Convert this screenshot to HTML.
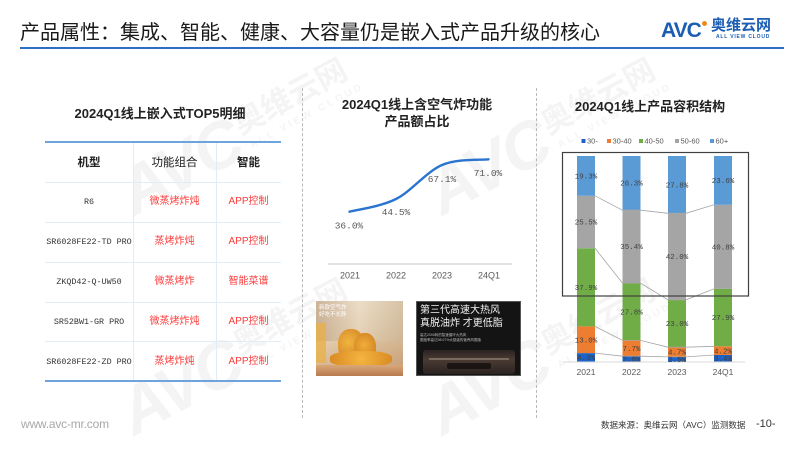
<!DOCTYPE html>
<html><head><meta charset="utf-8">
<style>
*{margin:0;padding:0;box-sizing:border-box;}
body{width:800px;height:445px;background:#fff;position:relative;overflow:hidden;font-family:"Liberation Sans","Noto Sans CJK SC",sans-serif;color:#222;}
.abs{position:absolute;}
.wm{position:absolute;width:260px;height:76px;transform:rotate(-28deg);color:rgba(0,0,0,0.045);font-weight:bold;white-space:nowrap;}
.wm .a{position:absolute;left:0;top:0;font-size:66px;line-height:76px;font-style:italic;letter-spacing:-2px;font-family:"Liberation Sans",sans-serif;}
.wm .b{position:absolute;left:132px;top:8px;font-size:31px;line-height:36px;font-family:"Noto Sans CJK SC",sans-serif;}
.wm .c{position:absolute;left:136px;top:48px;font-size:10px;letter-spacing:3px;font-family:"Liberation Sans",sans-serif;}
.cell{position:absolute;text-align:center;white-space:nowrap;height:14px;line-height:14px;}
.mono{font-family:"Liberation Mono",monospace;font-size:8.4px;color:#333;}
.red{color:#ff3b3b;font-size:10px;}
.hd{font-weight:bold;font-size:11.5px;color:#222;}
.ttl{position:absolute;font-weight:bold;font-size:13px;text-align:center;white-space:nowrap;color:#222;}
</style></head><body>

<!-- watermarks -->
<div class="wm" style="left:108px;top:97px;"><span class="a">AVC</span><span class="b">奥维云网</span><span class="c">ALL VIEW CLOUD</span></div>
<div class="wm" style="left:416px;top:97px;"><span class="a">AVC</span><span class="b">奥维云网</span><span class="c">ALL VIEW CLOUD</span></div>
<div class="wm" style="left:108px;top:317px;"><span class="a">AVC</span><span class="b">奥维云网</span><span class="c">ALL VIEW CLOUD</span></div>
<div class="wm" style="left:416px;top:317px;"><span class="a">AVC</span><span class="b">奥维云网</span><span class="c">ALL VIEW CLOUD</span></div>

<!-- header -->
<div class="abs" style="left:20px;top:20px;font-size:20px;line-height:26px;white-space:nowrap;color:#1a1a1a;font-family:'Liberation Sans','Noto Sans CJK SC',sans-serif;font-weight:normal;">产品属性：集成、智能、健康、大容量仍是嵌入式产品升级的核心</div>
<div class="abs" style="left:20px;top:47px;width:764px;height:2px;background:#2a6fc4;"></div>
<!-- logo -->
<div class="abs" style="left:661px;top:19px;font-size:21px;font-weight:bold;color:#1b5db3;letter-spacing:-1px;font-family:'Liberation Sans',sans-serif;line-height:24px;">AVC</div>
<div class="abs" style="left:702px;top:21px;width:5px;height:5px;border-radius:50%;background:#f08a1c;"></div>
<div class="abs" style="left:711px;top:16px;font-size:15px;font-weight:bold;color:#1b5db3;line-height:18px;white-space:nowrap;font-family:'Noto Sans CJK SC',sans-serif;">奥维云网</div>
<div class="abs" style="left:716px;top:34px;font-size:5px;font-weight:bold;color:#1b5db3;letter-spacing:0.8px;white-space:nowrap;">ALL VIEW CLOUD</div>

<!-- separators -->
<div class="abs" style="left:302px;top:88px;height:330px;border-left:1px dashed #b8b8b8;"></div>
<div class="abs" style="left:536px;top:88px;height:330px;border-left:1px dashed #b8b8b8;"></div>

<!-- left table -->
<div class="ttl" style="left:60px;top:103px;width:200px;">2024Q1线上嵌入式TOP5明细</div>
<div class="abs" style="left:45px;top:141px;width:236px;height:2px;background:#6fa3dc;"></div>
<div class="abs" style="left:45px;top:380px;width:236px;height:2px;background:#6fa3dc;"></div>
<div class="abs" style="left:45px;top:182px;width:236px;height:1px;background:#e2ecf7;"></div>
<div class="abs" style="left:45px;top:222px;width:236px;height:1px;background:#e2ecf7;"></div>
<div class="abs" style="left:45px;top:262px;width:236px;height:1px;background:#e2ecf7;"></div>
<div class="abs" style="left:45px;top:302px;width:236px;height:1px;background:#e2ecf7;"></div>
<div class="abs" style="left:45px;top:341px;width:236px;height:1px;background:#e2ecf7;"></div>
<div class="abs" style="left:133px;top:143px;width:1px;height:237px;background:#e2ecf7;"></div>
<div class="abs" style="left:216px;top:143px;width:1px;height:237px;background:#e2ecf7;"></div>

<div class="cell hd" style="left:45px;width:88px;top:156px;">机型</div>
<div class="cell hd" style="left:133px;width:83px;top:156px;font-weight:normal;">功能组合</div>
<div class="cell hd" style="left:216px;width:65px;top:156px;">智能</div>

<div class="cell mono" style="left:45px;width:88px;top:195px;">R6</div>
<div class="cell red" style="left:133px;width:83px;top:195px;">微蒸烤炸炖</div>
<div class="cell red" style="left:216px;width:65px;top:195px;">APP控制</div>

<div class="cell mono" style="left:43px;width:92px;top:235px;">SR6028FE22-TD PRO</div>
<div class="cell red" style="left:133px;width:83px;top:235px;">蒸烤炸炖</div>
<div class="cell red" style="left:216px;width:65px;top:235px;">APP控制</div>

<div class="cell mono" style="left:45px;width:88px;top:275px;">ZKQD42-Q-UW50</div>
<div class="cell red" style="left:133px;width:83px;top:275px;">微蒸烤炸</div>
<div class="cell red" style="left:216px;width:65px;top:275px;">智能菜谱</div>

<div class="cell mono" style="left:45px;width:88px;top:315px;">SR52BW1-GR PRO</div>
<div class="cell red" style="left:133px;width:83px;top:315px;">微蒸烤炸炖</div>
<div class="cell red" style="left:216px;width:65px;top:315px;">APP控制</div>

<div class="cell mono" style="left:43px;width:92px;top:355px;">SR6028FE22-ZD PRO</div>
<div class="cell red" style="left:133px;width:83px;top:355px;">蒸烤炸炖</div>
<div class="cell red" style="left:216px;width:65px;top:355px;">APP控制</div>

<!-- middle title -->
<div class="ttl" style="left:317px;top:96px;width:200px;line-height:17px;">2024Q1线上含空气炸功能<br>产品额占比</div>

<!-- right title -->
<div class="ttl" style="left:550px;top:96px;width:200px;">2024Q1线上产品容积结构</div>

<svg class="abs" style="left:0;top:0;" width="800" height="445" xmlns="http://www.w3.org/2000/svg">
  <!-- line chart -->
  <line x1="328" y1="264" x2="512" y2="264" stroke="#d9d9d9" stroke-width="1.5"/>
  <path d="M349.5,211.7 C357.25,209.58 380.6,206.78 396,199 C411.4,191.2 426.6,171.6 442,165 C457.4,158.4 480.75,160.25 488.5,159.3" fill="none" stroke="#2a74cf" stroke-width="2.4" stroke-linecap="round"/>
  <g font-family="Liberation Mono, monospace" font-size="9.5" fill="#595959" text-anchor="middle">
    <text x="349" y="228.5">36.0%</text>
    <text x="396" y="215">44.5%</text>
    <text x="442" y="182">67.1%</text>
    <text x="488" y="176">71.0%</text>
  </g>
  <g font-family="Liberation Sans, sans-serif" font-size="9" fill="#595959" text-anchor="middle">
    <text x="350" y="278.5">2021</text>
    <text x="396" y="278.5">2022</text>
    <text x="442" y="278.5">2023</text>
    <text x="489" y="278.5">24Q1</text>
  </g>

  <!-- stacked bar chart -->
  <g font-family="Liberation Sans, sans-serif" font-size="7.5" fill="#595959">
    <rect x="581.5" y="139" width="4" height="4" fill="#1f63c6"/><text x="587" y="143.5">30-</text>
    <rect x="607" y="139" width="4" height="4" fill="#ed7d31"/><text x="612.5" y="143.5">30-40</text>
    <rect x="639" y="139" width="4" height="4" fill="#70ad47"/><text x="644.5" y="143.5">40-50</text>
    <rect x="675" y="139" width="4" height="4" fill="#a5a5a5"/><text x="680.5" y="143.5">50-60</text>
    <rect x="710" y="139" width="4" height="4" fill="#5b9bd5"/><text x="715.5" y="143.5">60+</text>
  </g>
  <g>
    <rect x="577" y="353.1" width="18" height="8.9" fill="#1f63c6"/>
    <rect x="577" y="326.4" width="18" height="26.7" fill="#ed7d31"/>
    <rect x="577" y="248.3" width="18" height="78.1" fill="#70ad47"/>
    <rect x="577" y="195.8" width="18" height="52.5" fill="#a5a5a5"/>
    <rect x="577" y="156" width="18" height="39.8" fill="#5b9bd5"/>
    <rect x="622.5" y="356.2" width="18" height="5.8" fill="#1f63c6"/>
    <rect x="622.5" y="340.4" width="18" height="15.8" fill="#ed7d31"/>
    <rect x="622.5" y="283.1" width="18" height="57.3" fill="#70ad47"/>
    <rect x="622.5" y="210.2" width="18" height="72.9" fill="#a5a5a5"/>
    <rect x="622.5" y="156" width="18" height="54.2" fill="#5b9bd5"/>
    <rect x="668" y="356.85" width="18" height="5.15" fill="#1f63c6"/>
    <rect x="668" y="347.2" width="18" height="9.65" fill="#ed7d31"/>
    <rect x="668" y="299.8" width="18" height="47.4" fill="#70ad47"/>
    <rect x="668" y="213.3" width="18" height="86.5" fill="#a5a5a5"/>
    <rect x="668" y="156" width="18" height="57.3" fill="#5b9bd5"/>
    <rect x="714" y="355" width="18" height="7" fill="#1f63c6"/>
    <rect x="714" y="346.3" width="18" height="8.7" fill="#ed7d31"/>
    <rect x="714" y="288.9" width="18" height="57.4" fill="#70ad47"/>
    <rect x="714" y="204.8" width="18" height="84.1" fill="#a5a5a5"/>
    <rect x="714" y="156" width="18" height="48.8" fill="#5b9bd5"/>
  </g>
  <g stroke="#a6a6a6" stroke-width="0.8" fill="none">
    <polyline points="595,353.1 622.5,356.2 640.5,356.2 668,356.85 686,356.85 714,355"/>
    <polyline points="595,326.4 622.5,340.4 640.5,340.4 668,347.2 686,347.2 714,346.3"/>
    <polyline points="595,248.3 622.5,283.1 640.5,283.1 668,299.8 686,299.8 714,288.9"/>
    <polyline points="595,195.8 622.5,210.2 640.5,210.2 668,213.3 686,213.3 714,204.8"/>
  </g>
  <line x1="563" y1="362" x2="745" y2="362" stroke="#d9d9d9" stroke-width="1"/>
  <rect x="562.5" y="152.5" width="186" height="143.5" fill="none" stroke="#404040" stroke-width="1.2"/>
  <g font-family="Liberation Mono, monospace" font-size="7.5" fill="#404040" text-anchor="middle">
    <text x="586" y="178.5">19.3%</text>
    <text x="586" y="224.6">25.5%</text>
    <text x="586" y="290">37.9%</text>
    <text x="586" y="342.3">13.0%</text>
    <text x="586" y="360.2">4.3%</text>
    <text x="631.5" y="185.7">26.3%</text>
    <text x="631.5" y="249.2">35.4%</text>
    <text x="631.5" y="314.4">27.8%</text>
    <text x="631.5" y="351">7.7%</text>
    <text x="631.5" y="361.7">2.8%</text>
    <text x="677" y="187.3">27.8%</text>
    <text x="677" y="259.2">42.0%</text>
    <text x="677" y="326">23.0%</text>
    <text x="677" y="354.7">4.7%</text>
    <text x="677" y="362">2.5%</text>
    <text x="723" y="183">23.6%</text>
    <text x="723" y="249.5">40.8%</text>
    <text x="723" y="320.2">27.9%</text>
    <text x="723" y="353.3">4.2%</text>
    <text x="723" y="361">3.4%</text>
  </g>
  <g font-family="Liberation Sans, sans-serif" font-size="8.5" fill="#595959" text-anchor="middle">
    <text x="586" y="375">2021</text>
    <text x="631.5" y="375">2022</text>
    <text x="677" y="375">2023</text>
    <text x="723" y="375">24Q1</text>
  </g>
</svg>

<!-- food image -->
<div class="abs" style="left:316px;top:301px;width:87px;height:75px;overflow:hidden;background:linear-gradient(160deg,#efe2cf 0%,#e0c8a8 45%,#c49a72 100%);">
  <div class="abs" style="left:0;top:0;width:87px;height:40px;background:linear-gradient(90deg,rgba(180,150,120,0.6),rgba(240,230,215,0.3) 50%,rgba(200,180,150,0.5));"></div>
  <div class="abs" style="left:3px;top:4px;font-size:5.5px;line-height:7px;color:#fff;white-space:nowrap;">新款空气炸<br>好吃不长胖</div>
  <div class="abs" style="left:0;top:22px;width:10px;height:40px;background:#e9b04a;opacity:0.8;"></div>
  <div class="abs" style="left:22px;top:28px;width:26px;height:32px;border-radius:45%;background:radial-gradient(circle at 40% 40%,#f2b441,#c9781a);"></div>
  <div class="abs" style="left:38px;top:32px;width:22px;height:30px;border-radius:45%;background:radial-gradient(circle at 45% 40%,#f0ad3a,#c47018);"></div>
  <div class="abs" style="left:14px;top:50px;width:62px;height:16px;border-radius:40%;background:radial-gradient(circle,#f4b440,#d98a22);"></div>
  <div class="abs" style="left:0;top:64px;width:87px;height:11px;background:linear-gradient(#d9a878,#b87a4f);"></div>
</div>

<!-- dark image -->
<div class="abs" style="left:416px;top:301px;width:105px;height:75px;overflow:hidden;background:#141414;border:1px solid #555;">
  <div class="abs" style="left:3px;top:2px;font-size:10px;line-height:13px;color:#f2f2f2;white-space:nowrap;">第三代高速大热风</div>
  <div class="abs" style="left:3px;top:15px;font-size:10px;line-height:13px;color:#f2f2f2;white-space:nowrap;">真脱油炸 才更低脂</div>
  <div class="abs" style="left:3px;top:31px;font-size:3.5px;line-height:5px;color:#bbb;white-space:nowrap;">高达2000转的智速循环大热风<br>脱脂率高达98.07%大厨级的营养风蒸脂</div>
  <div class="abs" style="left:6px;top:48px;width:92px;height:24px;background:linear-gradient(#2a2321,#4a3a33 40%,#2b2421);border-radius:3px;"></div>
  <div class="abs" style="left:12px;top:56px;width:80px;height:2px;background:#7a6a5e;"></div>
  <div class="abs" style="left:30px;top:61px;width:44px;height:6px;background:#1a1512;border-radius:2px;"></div>
</div>

<!-- footer -->
<div class="abs" style="left:21px;top:416px;font-size:12px;line-height:16px;color:#a8a8a8;white-space:nowrap;letter-spacing:-0.2px;">www.avc-mr.com</div>
<div class="abs" style="left:601px;top:419px;font-size:8.5px;line-height:12px;color:#333;white-space:nowrap;">数据来源：奥维云网（AVC）监测数据</div>
<div class="abs" style="left:756px;top:417px;font-size:11px;line-height:15px;color:#333;white-space:nowrap;">-10-</div>

</body></html>
